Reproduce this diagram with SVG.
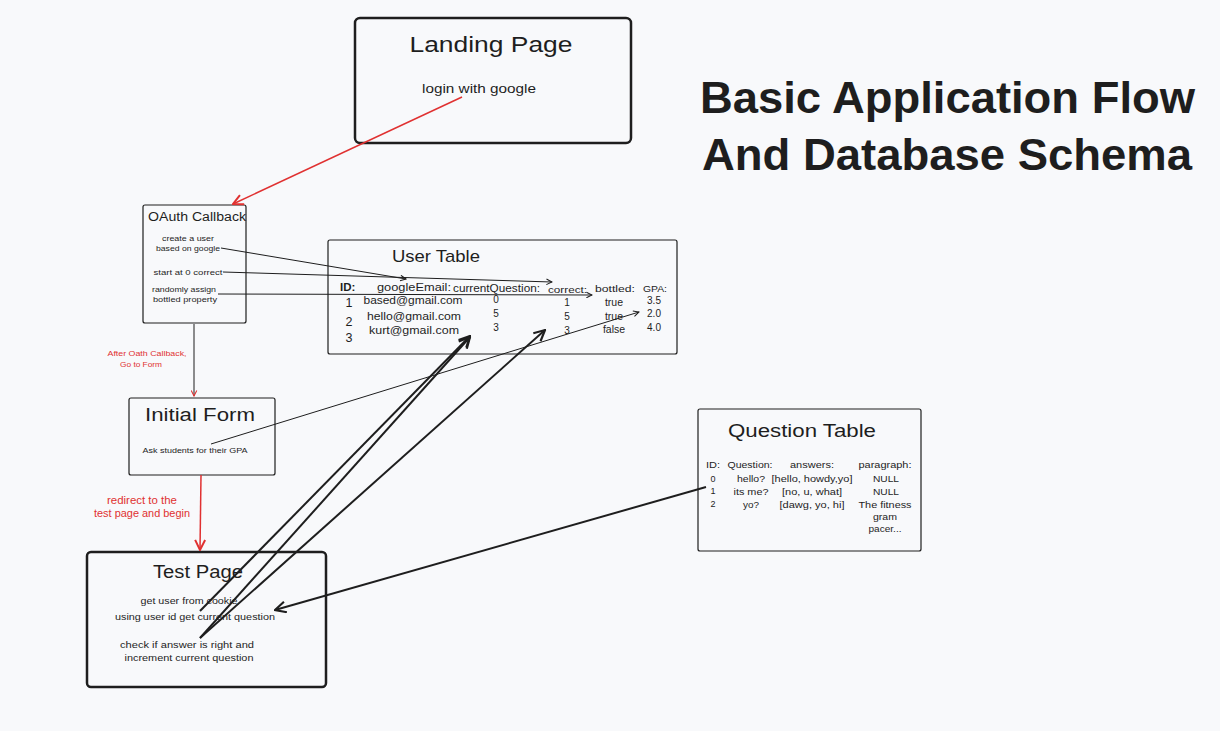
<svg xmlns="http://www.w3.org/2000/svg" width="1220" height="731" viewBox="0 0 1220 731">
<style>
text{font-family:"Liberation Sans","Noto Sans",sans-serif;fill:#1e1e1e}
.t{text-anchor:middle}
.red{fill:#e03131}
.box{fill:none;stroke:#1e1e1e;stroke-width:1.2}
.boxb{fill:none;stroke:#1e1e1e;stroke-width:2.5}
.c{fill:none;stroke:#1e1e1e;stroke-width:1}
.cb{fill:none;stroke:#1e1e1e;stroke-width:2}
.cr{fill:none;stroke:#e03131;stroke-width:1.5}
</style>
<defs>
<marker id="as" viewBox="0 0 10 10" refX="9" refY="5" markerWidth="7" markerHeight="7" markerUnits="userSpaceOnUse" orient="auto"><path d="M1,1 L9,5 L1,9" fill="none" stroke="#1e1e1e" stroke-width="1.5"/></marker>
<marker id="al" viewBox="0 0 12 12" refX="11" refY="6" markerWidth="13" markerHeight="13" markerUnits="userSpaceOnUse" orient="auto"><path d="M1,1 L11,6 L1,11" fill="none" stroke="#1e1e1e" stroke-width="2"/></marker>
<marker id="ar" viewBox="0 0 12 12" refX="11" refY="6" markerWidth="12" markerHeight="12" markerUnits="userSpaceOnUse" orient="auto"><path d="M1,1 L11,6 L1,11" fill="none" stroke="#e03131" stroke-width="2"/></marker>
<marker id="ars" viewBox="0 0 10 10" refX="9" refY="5" markerWidth="7" markerHeight="7" markerUnits="userSpaceOnUse" orient="auto"><path d="M1,1 L9,5 L1,9" fill="none" stroke="#e03131" stroke-width="1.5"/></marker>
</defs>
<rect width="1220" height="731" fill="#f8f9fb"/>

<g id="title">
<text x="700" y="113" font-size="44" font-weight="bold" textLength="495" lengthAdjust="spacingAndGlyphs">Basic Application Flow</text>
<text x="702" y="170" font-size="44" font-weight="bold" textLength="490" lengthAdjust="spacingAndGlyphs">And Database Schema</text>
</g>

<g id="landing-page">
<rect class="boxb" x="355" y="18" width="276" height="125" rx="5"/>
<text class="t" x="491" y="52" font-size="22" textLength="163" lengthAdjust="spacingAndGlyphs">Landing Page</text>
<text class="t" x="479" y="93" font-size="12.5" textLength="114" lengthAdjust="spacingAndGlyphs">login with google</text>
</g>

<g id="oauth-callback">
<rect class="box" x="143" y="205" width="103" height="118" rx="2"/>
<text class="t" x="197" y="221" font-size="12.5" textLength="98" lengthAdjust="spacingAndGlyphs">OAuth Callback</text>
<text class="t" x="188" y="241" font-size="8" textLength="52" lengthAdjust="spacingAndGlyphs">create a user</text>
<text class="t" x="188" y="251" font-size="8" textLength="64" lengthAdjust="spacingAndGlyphs">based on google</text>
<text class="t" x="188" y="275" font-size="8" textLength="69" lengthAdjust="spacingAndGlyphs">start at 0 correct</text>
<text class="t" x="184" y="292" font-size="8" textLength="64" lengthAdjust="spacingAndGlyphs">randomly assign</text>
<text class="t" x="185" y="302" font-size="8" textLength="64" lengthAdjust="spacingAndGlyphs">bottled property</text>
</g>

<g id="user-table">
<rect class="box" x="328" y="240" width="349" height="114" rx="2"/>
<text class="t" x="436" y="262" font-size="17" textLength="88" lengthAdjust="spacingAndGlyphs">User Table</text>
<text x="340" y="291" font-size="11.5" font-weight="bold">ID:</text>
<text x="377" y="291" font-size="11" textLength="74" lengthAdjust="spacingAndGlyphs">googleEmail:</text>
<text x="453" y="292" font-size="10" textLength="87" lengthAdjust="spacingAndGlyphs">currentQuestion:</text>
<text x="548" y="293" font-size="9.5" textLength="39" lengthAdjust="spacingAndGlyphs">correct:</text>
<text x="595" y="292" font-size="9.5" textLength="40" lengthAdjust="spacingAndGlyphs">bottled:</text>
<text x="643" y="292" font-size="9.5" textLength="24" lengthAdjust="spacingAndGlyphs">GPA:</text>
<text class="t" x="349" y="307" font-size="12.5">1</text>
<text class="t" x="349" y="326" font-size="12.5">2</text>
<text class="t" x="349" y="342" font-size="12.5">3</text>
<text class="t" x="413" y="304" font-size="10.5" textLength="99" lengthAdjust="spacingAndGlyphs">based@gmail.com</text>
<text class="t" x="414" y="320" font-size="10.5" textLength="94" lengthAdjust="spacingAndGlyphs">hello@gmail.com</text>
<text class="t" x="414" y="334" font-size="10.5" textLength="90" lengthAdjust="spacingAndGlyphs">kurt@gmail.com</text>
<text class="t" x="496" y="303" font-size="10">0</text>
<text class="t" x="496" y="317" font-size="10">5</text>
<text class="t" x="496" y="331" font-size="10">3</text>
<text class="t" x="567" y="306" font-size="10">1</text>
<text class="t" x="567" y="320" font-size="10">5</text>
<text class="t" x="567" y="334" font-size="10">3</text>
<text class="t" x="614" y="306" font-size="10.5">true</text>
<text class="t" x="614" y="320" font-size="10.5">true</text>
<text class="t" x="614" y="333" font-size="10.5">false</text>
<text class="t" x="654" y="304" font-size="10">3.5</text>
<text class="t" x="654" y="317" font-size="10">2.0</text>
<text class="t" x="654" y="331" font-size="10">4.0</text>
</g>

<g id="initial-form">
<rect class="box" x="129" y="398" width="146" height="77" rx="2"/>
<text class="t" x="200" y="421" font-size="17.5" textLength="110" lengthAdjust="spacingAndGlyphs">Initial Form</text>
<text class="t" x="195" y="453" font-size="7.5" textLength="105" lengthAdjust="spacingAndGlyphs">Ask students for their GPA</text>
</g>

<g id="labels">
<text class="t red" x="147" y="356" font-size="8" textLength="79" lengthAdjust="spacingAndGlyphs">After Oath Callback,</text>
<text class="t red" x="141" y="367" font-size="8" textLength="42" lengthAdjust="spacingAndGlyphs">Go to Form</text>
<text class="t red" x="142" y="504" font-size="10" textLength="70" lengthAdjust="spacingAndGlyphs">redirect to the</text>
<text class="t red" x="142" y="517" font-size="10" textLength="96" lengthAdjust="spacingAndGlyphs">test page and begin</text>
</g>

<g id="test-page">
<rect class="boxb" x="87" y="552" width="239" height="135" rx="4"/>
<text class="t" x="198" y="578" font-size="17.5" textLength="90" lengthAdjust="spacingAndGlyphs">Test Page</text>
<text class="t" x="189" y="604" font-size="9.5" textLength="97" lengthAdjust="spacingAndGlyphs">get user from cookie</text>
<text class="t" x="195" y="620" font-size="9.5" textLength="160" lengthAdjust="spacingAndGlyphs">using user id get current question</text>
<text class="t" x="187" y="648" font-size="9.5" textLength="134" lengthAdjust="spacingAndGlyphs">check if answer is right and</text>
<text class="t" x="189" y="661" font-size="9.5" textLength="129" lengthAdjust="spacingAndGlyphs">increment current question</text>
</g>

<g id="question-table">
<rect class="box" x="698" y="409" width="223" height="142" rx="2"/>
<text class="t" x="802" y="437" font-size="17.5" textLength="148" lengthAdjust="spacingAndGlyphs">Question Table</text>
<text class="t" x="713" y="468" font-size="9" textLength="14" lengthAdjust="spacingAndGlyphs">ID:</text>
<text class="t" x="750" y="468" font-size="9" textLength="45" lengthAdjust="spacingAndGlyphs">Question:</text>
<text class="t" x="812" y="468" font-size="9" textLength="44" lengthAdjust="spacingAndGlyphs">answers:</text>
<text class="t" x="885" y="468" font-size="9" textLength="53" lengthAdjust="spacingAndGlyphs">paragraph:</text>
<text class="t" x="713" y="482" font-size="9">0</text>
<text class="t" x="713" y="494" font-size="9">1</text>
<text class="t" x="713" y="507" font-size="9">2</text>
<text class="t" x="751" y="482" font-size="9" textLength="28" lengthAdjust="spacingAndGlyphs">hello?</text>
<text class="t" x="751" y="495" font-size="9" textLength="35" lengthAdjust="spacingAndGlyphs">its me?</text>
<text class="t" x="751" y="508" font-size="9" textLength="16" lengthAdjust="spacingAndGlyphs">yo?</text>
<text class="t" x="812" y="482" font-size="9" textLength="81" lengthAdjust="spacingAndGlyphs">[hello, howdy,yo]</text>
<text class="t" x="812" y="495" font-size="9" textLength="60" lengthAdjust="spacingAndGlyphs">[no, u, what]</text>
<text class="t" x="812" y="508" font-size="9" textLength="65" lengthAdjust="spacingAndGlyphs">[dawg, yo, hi]</text>
<text class="t" x="886" y="482" font-size="9" textLength="26" lengthAdjust="spacingAndGlyphs">NULL</text>
<text class="t" x="886" y="495" font-size="9" textLength="26" lengthAdjust="spacingAndGlyphs">NULL</text>
<text class="t" x="885" y="508" font-size="9" textLength="53" lengthAdjust="spacingAndGlyphs">The fitness</text>
<text class="t" x="885" y="520" font-size="9" textLength="24" lengthAdjust="spacingAndGlyphs">gram</text>
<text class="t" x="885" y="532" font-size="9" textLength="33" lengthAdjust="spacingAndGlyphs">pacer...</text>
</g>

<g id="connectors">
<path class="cr" d="M462,97 L233,204" marker-end="url(#ar)"/>
<path class="c" d="M194,324 L194,396" stroke="#e03131" marker-end="url(#ars)"/>
<path class="cr" d="M201,475 L200,550" stroke-width="2" marker-end="url(#ar)"/>
<path class="c" d="M221,248 L406,279" marker-end="url(#as)"/>
<path class="c" d="M223,272 L552,282" marker-end="url(#as)"/>
<path class="c" d="M218,294 L592,295" marker-end="url(#as)"/>
<path class="c" d="M211,444 L639,312" marker-end="url(#as)"/>
<path class="cb" d="M200,611 L470,336" marker-end="url(#al)"/>
<path class="cb" d="M200,638 L470,337" marker-end="url(#al)"/>
<path class="cb" d="M200,638 L545,330" marker-end="url(#al)"/>
<path class="cb" d="M706,487 L275,610" marker-end="url(#al)"/>
</g>
</svg>
